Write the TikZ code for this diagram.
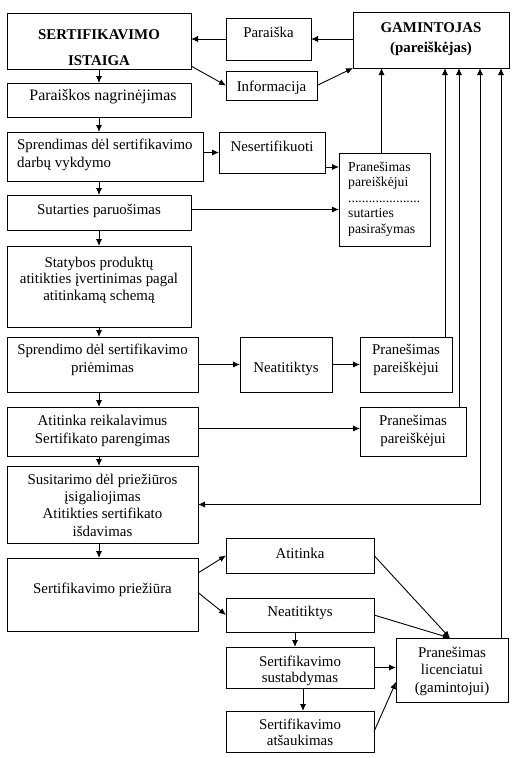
\documentclass[tikz,border=0pt]{standalone}
\usepackage{fontspec}
\setmainfont{Liberation Serif}
\usetikzlibrary{arrows.meta,calc}
\newcommand\bx[5]{\node[box, minimum width={(#4-#2)*1pt}, minimum height={(#5-#3)*1pt}] (#1) at ({(#2+#4)/2},{(#3+#5)/2}) {};}
\begin{document}
\begin{tikzpicture}[x=1pt,y=-1pt,
  box/.style={draw, line width=0.9pt, inner sep=0pt, outer sep=0pt},
  txt/.style={font=\fontsize{14.9}{17.2}\selectfont, inner sep=0pt, align=center, anchor=base},
  btxt/.style={font=\fontsize{14.9}{20}\selectfont\bfseries, inner sep=0pt, align=center, anchor=base},
  arr/.style={line width=0.9pt, -{Latex[length=7pt,width=6pt]}},
  dbl/.style={line width=0.9pt, {Latex[length=7pt,width=6pt]}-{Latex[length=7pt,width=6pt]}},
  ]
\useasboundingbox (0,0) rectangle (520,758);
% boxes
\bx{si}{7}{13}{191}{69}
\bx{par}{226}{18}{311}{60}
\bx{gam}{353}{12}{509}{68}
\bx{inf}{226}{71}{317}{100}
\bx{nag}{7}{83}{191}{117}
\bx{spr}{7}{132}{203}{181}
\bx{nes}{219}{132}{325}{173}
\bx{pr1}{339}{153}{430}{246}
\bx{sut}{7}{195}{191}{230}
\bx{stat}{7}{246}{191}{327}
\bx{spm}{7}{337}{198}{392}
\bx{neat}{240}{337}{332}{392}
\bx{pr2}{360}{337}{452}{392}
\bx{atr}{7}{407}{198}{456}
\bx{pr3}{360}{407}{466}{456}
\bx{sus}{7}{466}{198}{543}
\bx{prz}{7}{558}{198}{631}
\bx{ati}{226}{538}{374}{573}
\bx{ne2}{226}{598}{374}{632}
\bx{sus2}{226}{647}{374}{688}
\bx{ats}{226}{711}{374}{752}
\bx{plic}{396}{638}{508}{702}
% texts (base anchor = baseline of the last line)
\node[btxt] (si-t) at (99,65) {SERTIFIKAVIMO\\[6pt]ISTAIGA};
\node[txt] (par-t) at (268.5,37) {Paraiška};
\node[btxt] (gam-t) at (431,52) {GAMINTOJAS\\(pareiškėjas)};
\node[txt] (inf-t) at (271.5,91) {Informacija};
\node[txt, font=\fontsize{15.9}{17.2}\selectfont] (nag-t) at (103,100) {Paraiškos nagrinėjimas};
\node[txt, align=left, anchor=base west] (spr-t) at (17,167) {Sprendimas dėl sertifikavimo\\darbų vykdymo};
\node[txt] (nes-t) at (272,151) {Nesertifikuoti};
\node[txt, align=left, anchor=base west, font=\fontsize{13.7}{15.5}\selectfont] (pr1-t) at (348,233) {Pranešimas\\pareiškėjui\\.....................\\sutarties\\pasirašymas};
\node[txt] (sut-t) at (99,214) {Sutarties paruošimas};
\node[txt, font=\fontsize{14.9}{16.5}\selectfont] (stat-t) at (99,300) {Statybos produktų\\atitikties įvertinimas pagal\\atitinkamą schemą};
\node[txt] (spm-t) at (102.5,372) {Sprendimo dėl sertifikavimo\\priėmimas};
\node[txt] (neat-t) at (286,372) {Neatitiktys};
\node[txt] (pr2-t) at (406,372) {Pranešimas\\pareiškėjui};
\node[txt] (atr-t) at (102.5,443) {Atitinka reikalavimus\\Sertifikato parengimas};
\node[txt] (pr3-t) at (413,443) {Pranešimas\\pareiškėjui};
\node[txt, font=\fontsize{14.9}{17.3}\selectfont] (sus-t) at (102.5,536) {Susitarimo dėl priežiūros\\įsigaliojimas\\Atitikties sertifikato\\išdavimas};
\node[txt] (prz-t) at (102.5,593) {Sertifikavimo priežiūra};
\node[txt] (ati-t) at (300,558) {Atitinka};
\node[txt] (ne2-t) at (300,616) {Neatitiktys};
\node[txt, font=\fontsize{14.9}{16}\selectfont] (sus2-t) at (300,682) {Sertifikavimo\\sustabdymas};
\node[txt, font=\fontsize{14.9}{16}\selectfont] (ats-t) at (300,745) {Sertifikavimo\\atšaukimas};
\node[txt] (plic-t) at (452,692) {Pranešimas\\licenciatui\\(gamintojui)};
% connectors
\draw[arr] (par.west) -- (par.west -| si.east);
\draw[arr] (gam.west |- par.west) -- (par.east);
\draw[arr] ([yshift=3pt]si.south east) -- (inf.west);
\draw[arr] (inf.east) -- (gam.south west);
\draw[arr] (si.south) -- (nag.north);
\draw[arr] (nag.south) -- (nag.south |- spr.north);
\draw[arr] (nag.south |- spr.south) -- (sut.north);
\draw[arr] (sut.south) -- (stat.north);
\draw[arr] (stat.south) -- (stat.south |- spm.north);
\draw[arr] (stat.south |- spm.south) -- (stat.south |- atr.north);
\draw[arr] (stat.south |- atr.south) -- (stat.south |- sus.north);
\draw[arr] (stat.south |- sus.south) -- (stat.south |- prz.north);
\draw[arr] (spr.east |- nes.west) -- (nes.west);
\draw[arr] ([yshift=6pt]nes.south east) -- ([yshift=6pt]nes.south east -| pr1.west);
\draw[arr] ([yshift=3pt]sut.east) -- ([yshift=3pt]sut.east -| pr1.west);
\draw[arr] ([xshift=-3pt]pr1.north) -- ([xshift=-3pt]pr1.north |- gam.south);
\draw[arr] (spm.east) -- (neat.west);
\draw[arr] (neat.east) -- (pr2.west);
\draw[arr] ([xshift=-7pt]pr2.north east) -- ([xshift=-7pt]pr2.north east |- gam.south);
\draw[arr] ([yshift=3pt]atr.east) -- ([yshift=3pt]atr.east -| pr3.west);
\draw[arr] ([xshift=-7pt]pr3.north east) -- ([xshift=-7pt]pr3.north east |- gam.south);
\draw[dbl] (sus.east) -| ([xshift=-29pt]gam.south east);
\draw[arr] ([xshift=-7pt]plic.north east) -- ([xshift=-7pt]plic.north east |- gam.south);
\draw[arr] ([yshift=-15pt]prz.north east) -- (ati.west);
\draw[arr] ([yshift=2pt]prz.east) -- (ne2.west);
\draw[arr] (ati.east) -- ([xshift=-2pt]plic.north);
\draw[arr] (ne2.east) -- ([xshift=-2pt]plic.north);
\draw[arr] ([xshift=-5pt]ne2.south) -- ([xshift=-5pt]ne2.south |- sus2.north);
\draw[arr] ([xshift=3pt]sus2.south) -- ([xshift=3pt]sus2.south |- ats.north);
\draw[arr] (sus2.east) -- (sus2.east -| plic.west);
\draw[arr] (ats.east) -- ([yshift=20pt]plic.south west);
\end{tikzpicture}
\end{document}
